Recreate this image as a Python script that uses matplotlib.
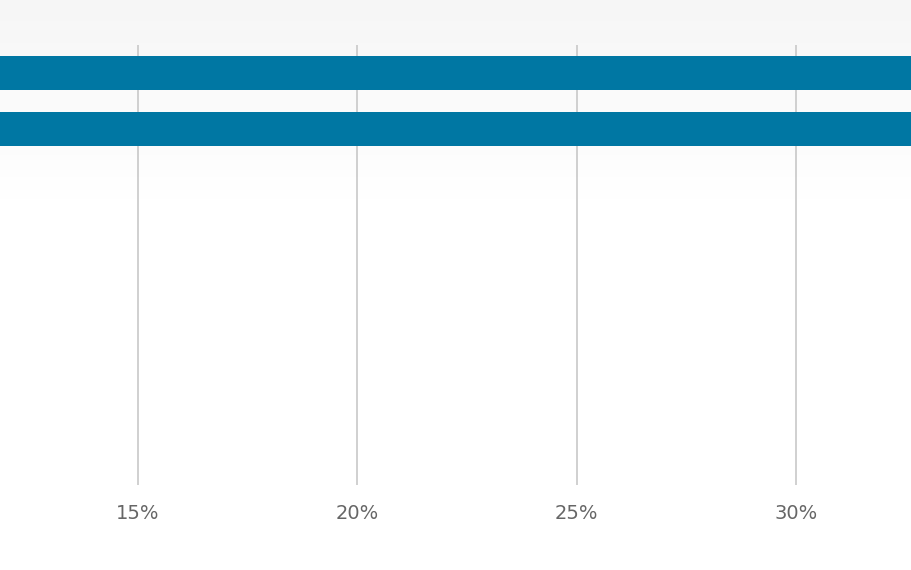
import matplotlib
matplotlib.use("Agg")
import matplotlib.pyplot as plt
import numpy as np

categories = ["A", "B"]
values = [40.0, 38.0]
ticks = [15, 20, 25, 30]
tick_labels = ["15%", "20%", "25%", "30%"]

fig = plt.figure(figsize=(9.12, 5.70), dpi=100)
bg = fig.add_axes([0, 0, 1, 1])
grad = np.concatenate([np.linspace(0.965, 1.0, 200), np.ones(370)])
img = np.repeat(grad[:, None, None], 3, axis=2)
bg.imshow(img, aspect="auto", extent=[0, 1, 0, 1])
bg.axis("off")

ax = fig.add_axes([0, 85/570, 1, 440/570])
ax.set_facecolor("none")
ax.barh(range(len(categories)), values, height=34/56, color="#0077a3", zorder=3)
ax.set_xlim(11.85, 32.65)
ax.set_ylim(-0.5 + 440/56, -0.5)
ax.set_xticks(ticks)
ax.set_xticklabels(tick_labels, color="#666666", fontsize=14, family="DejaVu Sans")
ax.set_yticks([])
ax.tick_params(axis="x", length=0, pad=14)
ax.grid(axis="x", color="#c8c8c8", linewidth=1.2, zorder=0)
for s in ax.spines.values():
    s.set_visible(False)
fig.savefig("out.png", dpi=100)
